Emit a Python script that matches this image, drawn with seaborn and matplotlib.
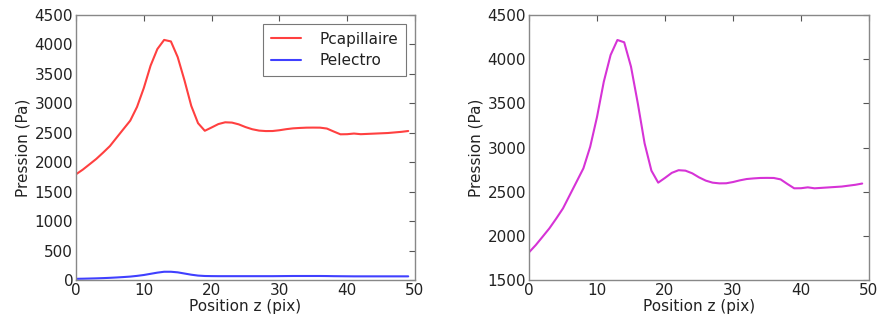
import numpy as np
import pandas as pd
import matplotlib
matplotlib.use("Agg")
import matplotlib.pyplot as plt
import seaborn as sns

z = list(range(50))
p_capillaire = [1795, 1874, 1965, 2057, 2163, 2274, 2419, 2563, 2706, 2939,
                3260, 3640, 3922, 4077, 4051, 3785, 3390, 2957, 2663, 2534,
                2590, 2648, 2678, 2673, 2643, 2597, 2560, 2537, 2529, 2530,
                2543, 2561, 2575, 2582, 2587, 2588, 2587, 2572, 2522, 2474,
                2476, 2487, 2476, 2481, 2486, 2491, 2496, 2506, 2516, 2530]
p_electro = [20, 22, 25, 28, 32, 37, 43, 50, 58, 70,
             85, 105, 125, 140, 140, 130, 110, 90, 75, 68,
             66, 65, 65, 65, 65, 65, 65, 65, 65, 65,
             66, 67, 68, 68, 68, 68, 68, 67, 65, 64,
             63, 62, 62, 62, 62, 62, 62, 62, 62, 62]
p_total = [1813, 1896, 1990, 2085, 2195, 2311, 2462, 2613, 2764, 3009,
           3345, 3745, 4047, 4217, 4191, 3915, 3500, 3047, 2738, 2602,
           2656, 2713, 2743, 2738, 2708, 2662, 2625, 2602, 2594, 2595,
           2609, 2628, 2643, 2650, 2655, 2656, 2655, 2639, 2587, 2538,
           2539, 2549, 2538, 2543, 2548, 2553, 2558, 2568, 2578, 2592]

labels = ["Pcapillaire", "Pelectro"]
xlabel = "Position z (pix)"
ylabel = "Pression (Pa)"

sns.set_style("white")
plt.rcParams['font.family'] = ['DejaVu Sans']
plt.rcParams['text.color'] = '#222222'
plt.rcParams['axes.labelcolor'] = '#222222'
plt.rcParams['xtick.color'] = '#222222'
plt.rcParams['ytick.color'] = '#222222'

fig = plt.figure(figsize=(8.77, 3.22), dpi=100)
ax1 = fig.add_axes([76/877, 42/322, 339/877, 265/322])
ax2 = fig.add_axes([529/877, 42/322, 340/877, 265/322])

df = pd.DataFrame({"z": z * 2,
                   "P": p_capillaire + p_electro,
                   "serie": [labels[0]] * 50 + [labels[1]] * 50})
sns.lineplot(data=df, x="z", y="P", hue="serie",
             palette={labels[0]: "#ff0000", labels[1]: "#0000ff"},
             alpha=0.75, linewidth=1.5, ax=ax1)
sns.lineplot(x=z, y=p_total, color="#cc00cc", alpha=0.8, linewidth=1.5, ax=ax2)

for ax, ylim, yt in [(ax1, (0, 4500), np.arange(0, 4501, 500)),
                     (ax2, (1500, 4500), np.arange(1500, 4501, 500))]:
    ax.set_xlim(0, 50)
    ax.set_ylim(*ylim)
    ax.set_xticks(np.arange(0, 51, 10))
    ax.set_yticks(yt)
    ax.set_xlabel(xlabel, fontsize=11, labelpad=1)
    ax.set_ylabel(ylabel, fontsize=11, labelpad=3)
    ax.tick_params(direction="in", top=True, right=True, length=4,
                   width=0.8, labelsize=11, pad=2, color="#555555")
    for s in ax.spines.values():
        s.set_color("#888888")
        s.set_linewidth(1.0)

leg = ax1.legend(loc="upper right", fontsize=11, frameon=True, fancybox=False,
                 edgecolor="#555555", borderpad=0.5, handlelength=2.0,
                 handletextpad=1.2, labelspacing=0.4, borderaxespad=0.6)
leg.get_frame().set_linewidth(0.8)
for h in leg.get_lines():
    h.set_linewidth(1.5)

fig.savefig("out.png", dpi=100)
